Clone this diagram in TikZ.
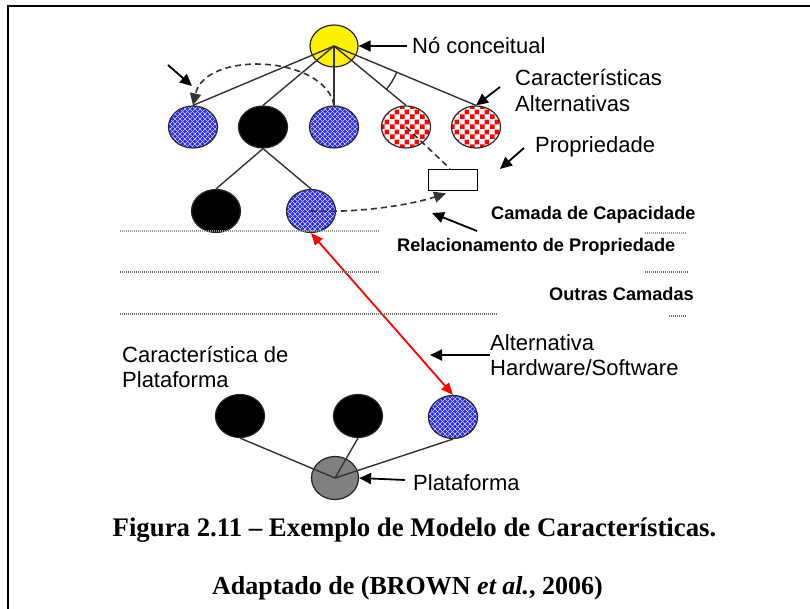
\documentclass[tikz,border=0pt]{standalone}
\usepackage{fontspec}
\setmainfont{Liberation Sans}
\newfontfamily\capfont{Liberation Serif}
\usetikzlibrary{shapes.geometric,arrows.meta,patterns.meta}

\definecolor{bluefill}{RGB}{40,40,255}
\definecolor{edgegray}{RGB}{50,50,50}
\definecolor{dotgray}{RGB}{110,110,110}
\definecolor{grayfill}{RGB}{128,128,128}

\tikzdeclarepattern{
  name=mychk,
  type=uncolored,
  bounding box={(0pt,0pt) and (10pt,10pt)},
  tile size={(10pt,10pt)},
  code={
    \fill (0pt,0pt) rectangle (5pt,5pt);
    \fill (5pt,5pt) rectangle (10pt,10pt);
  }
}
\tikzdeclarepattern{
  name=mycross,
  type=uncolored,
  bounding box={(-0.5pt,-0.5pt) and (5.5pt,5.5pt)},
  tile size={(5pt,5pt)},
  code={
    \draw[line width=0.55pt] (0pt,0pt) -- (5pt,5pt);
    \draw[line width=0.55pt] (0pt,5pt) -- (5pt,0pt);
  }
}

\begin{document}
\begin{tikzpicture}[x=1pt,y=-1pt,
  fnode/.style={ellipse, draw=black!85, line width=1.2pt, minimum width=49pt, minimum height=42pt, inner sep=0pt},
  yellownode/.style={fnode, fill=yellow, minimum width=48pt},
  blacknode/.style={fnode, fill=black},
  bluenode/.style={fnode, preaction={fill=bluefill}, preaction={pattern=mycross, pattern color=white!85!blue}},
  rednode/.style={fnode, preaction={fill=white}, preaction={pattern=mychk, pattern color=red}},
  graynode/.style={fnode, fill=grayfill, minimum width=47pt, minimum height=43pt},
  propbox/.style={rectangle, draw=black, line width=1.8pt, minimum width=49pt, minimum height=21pt, inner sep=0pt, fill=white},
  treeedge/.style={draw=edgegray, line width=1.4pt},
  ptr/.style={draw=black, line width=1.8pt, -{Triangle[length=12pt,width=11pt]}},
  dashl/.style={draw=edgegray, line width=1.6pt, dash pattern=on 6pt off 4pt},
  dasharrow/.style={dashl, -{Triangle[length=12pt,width=11pt]}},
  redarrow/.style={draw=red, line width=1.8pt, {Triangle[length=12pt,width=10pt]}-{Triangle[length=12pt,width=10pt]}},
  dotl/.style={draw=dotgray, line width=1.4pt, dash pattern=on 1pt off 1pt},
  lbl/.style={font=\fontsize{22}{26}\selectfont, inner sep=0pt, text=black},
  blbl/.style={font=\fontsize{18.2}{22}\selectfont\bfseries, inner sep=0pt, text=black},
  captext/.style={font=\capfont\fontsize{26}{30}\selectfont\bfseries, inner sep=0pt, text=black}
]
\useasboundingbox (0,0) rectangle (810,609);
\fill[white] (0,0) rectangle (810,609);
% frame
\draw[line width=2.3pt] (8,609) -- (8,6.3) -- (810,6.3);

% nodes
\node[yellownode] (yel) at (334,46) {};
\node[bluenode] (b1) at (193,127) {};
\node[blacknode] (k1) at (263,127) {};
\node[bluenode] (b2) at (334,127) {};
\node[rednode] (r1) at (406,127) {};
\node[rednode] (r2) at (476,127) {};
\node[blacknode, minimum height=43pt] (k2) at (216,211) {};
\node[bluenode, minimum height=43pt] (b3) at (311,211) {};
\node[propbox] (prop) at (453,180) {};
\node[blacknode, minimum height=43pt] (k3) at (240,416) {};
\node[blacknode, minimum height=43pt] (k4) at (358,416) {};
\node[bluenode, minimum height=43pt] (b4) at (453,417) {};
\node[graynode] (gr) at (335,478) {};

% tree edges
\draw[treeedge] (yel.center) -- (b1.north);
\draw[treeedge] (yel.center) -- (k1.north);
\draw[treeedge] (yel.center) -- (b2.north);
\draw[treeedge] (yel.center) -- (r1.north);
\draw[treeedge] (yel.center) -- (r2.north);
\draw[treeedge] (yel.center) ++(39.8:68) arc[start angle=39.8, end angle=22.9, radius=68];
\draw[treeedge] (k1.south) -- (k2.north);
\draw[treeedge] (k1.south) -- (b3.north);
\draw[treeedge] (gr.center) -- (k3.south);
\draw[treeedge] (gr.center) -- (k4.south);
\draw[treeedge] (gr.center) -- (b4.south);

% dashed relations
\draw[dasharrow] (b2.north) .. controls (325,55) and (205,50) .. (b1.north);
\draw[dashl] (r1.center) -- ([xshift=-3pt]prop.north);
\draw[dasharrow] (b3.center) .. controls (360,213) and (410,205) .. ([xshift=-7pt,yshift=-2pt]prop.south);

% red arrow
\draw[redarrow] (b3.south) -- (b4.north);

% layer lines
\coordinate (d1a) at (120,231); \coordinate (d1b) at (380,231);
\coordinate (d1c) at (645,233); \coordinate (d1d) at (687,233);
\coordinate (d2a) at (120,272); \coordinate (d2b) at (380,272);
\coordinate (d2c) at (645,272); \coordinate (d2d) at (688,272);
\coordinate (d3a) at (120,314); \coordinate (d3b) at (498,314);
\coordinate (d3c) at (669,316); \coordinate (d3d) at (687,316);
\draw[dotl, draw=dotgray!70] (d1a) -- (d1b);
\draw[dotl, draw=dotgray!70] (d1c) -- (d1d);
\draw[dotl] (d2a) -- (d2b);
\draw[dotl] (d2c) -- (d2d);
\draw[dotl] (d3a) -- (d3b);
\draw[dotl] (d3c) -- (d3d);

% labels
\node[lbl, anchor=base west] (tNo) at (412,54) {Nó conceitual};
\node[lbl, anchor=base west] (tCa1) at (515,86) {Características};
\node[lbl, anchor=base west] (tCa2) at (515,112) {Alternativas};
\node[lbl, anchor=base west] (tProp) at (535,153) {Propriedade};
\node[blbl, anchor=base west] (tCam) at (491,220) {Camada de Capacidade};
\node[blbl, anchor=base west] (tRel) at (397,252) {Relacionamento de Propriedade};
\node[blbl, anchor=base west] (tOut) at (549,301) {Outras Camadas};
\node[lbl, anchor=base west] (tAl1) at (490,350) {Alternativa};
\node[lbl, anchor=base west] (tAl2) at (490,375) {Hardware/Software};
\node[lbl, anchor=base west] (tCP1) at (122,362) {Característica de};
\node[lbl, anchor=base west] (tCP2) at (122,387) {Plataforma};
\node[lbl, anchor=base west] (tPl) at (413,490) {Plataforma};

% pointer arrows
\coordinate (pNo) at (407,46);
\draw[ptr] (pNo) -- (yel.east);
\coordinate (pTL1) at (168,65); \coordinate (pTL2) at (192,86);
\draw[ptr] (pTL1) -- (pTL2);
\coordinate (pAlt) at (500,87);
\draw[ptr] (pAlt) -- (r2.north);
\coordinate (pPr1) at (524,148); \coordinate (pPr2) at (500,169);
\draw[ptr] (pPr1) -- (pPr2);
\coordinate (pRe1) at (477,231); \coordinate (pRe2) at (432,213);
\draw[ptr] (pRe1) -- (pRe2);
\coordinate (pHw1) at (490,355); \coordinate (pHw2) at (430,355);
\draw[ptr] (pHw1) -- (pHw2);
\coordinate (pPl) at (405,480);
\draw[ptr] (pPl) -- (gr.east);

% caption
\node[captext, font=\capfont\fontsize{26.8}{30}\selectfont\bfseries, anchor=base] (cap1) at (414.5,536) {Figura 2.11 – Exemplo de Modelo de Características.};
\node[captext, anchor=base] (cap2) at (407.5,594) {Adaptado de (BROWN \textit{et al.}, 2006)};
\end{tikzpicture}
\end{document}
